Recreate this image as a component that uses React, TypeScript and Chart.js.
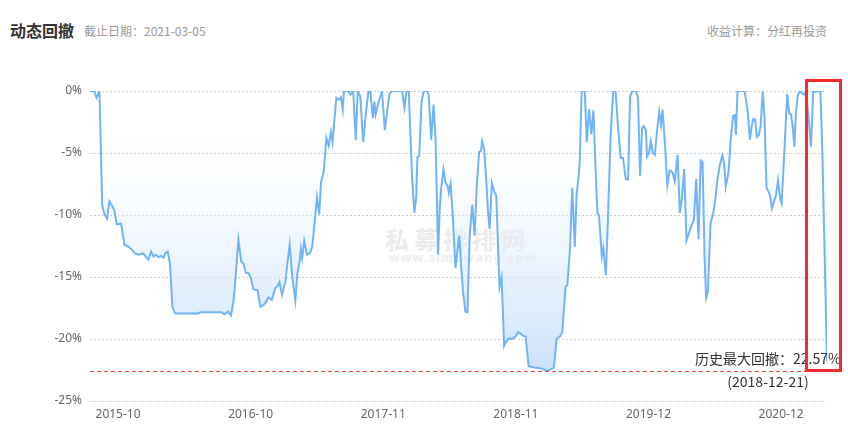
import React, { useEffect, useRef } from 'react';
import { Chart, registerables } from 'chart.js';

Chart.register(...registerables);

// position of each reading along the time axis (in weeks from the first NAV date)
const weekPos = [
  0, 1.6, 2.6, 3.7, 4.8, 5.6, 6.7, 7.6, 8.5, 9.5,
  10.5, 12.2, 13.5, 15.0, 16.4, 17.7, 19.0, 20.9, 22.9, 24.0,
  24.9, 25.8, 26.8, 27.9, 28.8, 29.7, 30.5, 31.4, 32.3, 33.4,
  42.5, 43.2, 51.7, 52.7, 54.1, 55.3, 56.3, 57.1, 58.2, 59.3,
  60.2, 61.1, 62.2, 63.1, 64.1, 65.7, 66.8, 67.8, 68.7, 70.0,
  71.3, 72.6, 73.5, 74.3, 75.3, 76.6, 77.5, 78.3, 79.2, 80.5,
  81.4, 82.2, 82.7, 83.2, 84.0, 85.1, 86.1, 87.1, 88.0, 89.0,
  89.9, 90.6, 91.6, 92.7, 93.6, 94.5, 95.1, 96.6, 97.5, 98.4,
  99.1, 99.6, 101.2, 102.2, 103.2, 104.2, 105.0, 106.0, 107.1, 108.1,
  109.2, 110.0, 110.9, 111.5, 112.0, 113.2, 114.5, 115.6, 116.5, 117.5,
  118.5, 122.4, 123.3, 124.1, 125.0, 126.3, 127.2, 127.9, 128.4, 129.1,
  130.0, 130.9, 132.2, 132.8, 133.8, 134.7, 135.5, 136.5, 137.2, 137.8,
  138.6, 139.4, 140.3, 140.7, 141.4, 142.3, 143.3, 144.2, 144.8, 145.6,
  146.3, 147.2, 148.0, 148.9, 149.9, 150.8, 151.7, 152.6, 153.3, 153.8,
  154.6, 155.5, 156.0, 156.7, 157.6, 158.5, 159.3, 159.8, 160.6, 161.4,
  162.4, 163.2, 164.3, 165.6, 166.9, 167.9, 168.8, 169.8, 170.8, 172.0,
  174.1, 176.7, 179.3, 180.6, 181.9, 183.0, 184.3, 185.2, 186.5, 187.2,
  188.2, 189.1, 190.1, 190.8, 192.0, 192.8, 194.0, 194.8, 195.7, 196.6,
  197.4, 198.3, 199.0, 199.6, 200.7, 201.3, 202.3, 203.1, 204.2, 205.2,
  206.1, 207.0, 208.1, 209.0, 210.1, 211.0, 211.8, 212.7, 214.1, 214.9,
  215.7, 216.5, 217.1, 218.0, 218.4, 219.2, 219.9, 220.7, 221.5, 222.3,
  223.2, 223.9, 224.5, 225.4, 226.4, 227.3, 228.4, 229.3, 230.4, 231.3,
  232.1, 233.0, 233.9, 235.0, 236.0, 236.8, 237.7, 238.6, 239.5, 240.2,
  241.0, 241.6, 242.3, 243.3, 244.4, 245.1, 246.1, 247.0, 248.0, 248.7,
  249.3, 250.4, 251.3, 252.2, 252.9, 253.3, 253.9, 256.7, 257.9, 258.8,
  259.4, 260.1, 260.8, 261.5, 262.3, 263.0, 263.8, 264.5, 265.3, 265.8,
  266.6, 267.4, 268.2, 269.0, 269.8, 270.6, 271.2, 271.8, 272.6, 273.4,
  274.2, 274.9, 275.5, 276.2, 276.8, 277.6, 278.4, 279.2, 280.0, 280.8,
  281.8, 282.7, 283.6, 284.7, 285.7, 286.4, 287.1, 289,
];

// dynamic drawdown, %
const drawdown = [
  0, 0, -0.55, 0, -9.2, -9.9, -10.3, -8.9, -9.2, -9.6,
  -10.75, -10.7, -12.4, -12.55, -12.8, -13.1, -13.2, -13.1, -13.6, -12.95,
  -13.35, -13.2, -13.4, -13.3, -13.45, -13.05, -12.95, -14.0, -17.4, -17.95,
  -17.95, -17.85, -17.85, -18.0, -17.8, -18.1, -16.9, -15.0, -12.0, -13.75,
  -13.95, -14.65, -14.7, -15.1, -16.0, -16.05, -17.4, -17.3, -17.1, -16.65,
  -16.85, -15.9, -15.75, -15.4, -16.45, -15.4, -13.75, -12.4, -14.7, -16.9,
  -14.6, -13.75, -12.75, -13.45, -12.1, -13.2, -13.1, -12.6, -10.8, -8.6,
  -9.95, -7.35, -6.55, -3.8, -4.4, -3.3, -4.1, -0.55, -0.7, -0.5,
  -1.5, 0, 0, -0.3, 0, -3.95, 0, -0.45, -4.1, -1.95,
  0, -0.1, -2.2, -0.85, -1.9, -0.85, 0, -3.15, -1.65, -0.2,
  0, 0, -1.35, 0, 0, -7.0, -9.8, -8.65, -5.3, -5.25,
  -0.85, 0, 0, -0.3, -3.95, -1.1, -3.8, -13.2, -9.2, -7.7,
  -6.3, -7.35, -7.7, -8.2, -7.5, -10.25, -14.3, -12.7, -11.65, -14.3,
  -16.2, -17.8, -17.85, -11.6, -9.15, -11.65, -7.6, -4.9, -4.85, -4.05,
  -4.75, -7.6, -9.6, -11.1, -7.45, -8.1, -8.45, -11.35, -15.8, -15.0,
  -20.55, -20.2, -19.95, -20.0, -19.8, -19.45, -19.55, -19.75, -19.8, -22.2,
  -22.3, -22.35, -22.57, -22.45, -22.3, -19.95, -19.8, -19.45, -15.8, -15.65,
  -12.8, -7.8, -12.55, -8.5, -5.95, 0, 0, -4.1, -1.45, -3.5,
  -1.55, -6.5, -9.9, -10.0, -13.35, -12.7, -14.85, -10.3, -3.3, 0,
  0, -2.75, -5.4, -5.4, -7.1, -7.15, -0.45, 0, 0, -0.6,
  -6.85, -3.0, -2.85, -3.15, -5.3, -5.0, -4.05, -5.0, -5.15, -3.3,
  -1.7, -2.7, -1.5, -4.1, -7.6, -6.4, -6.55, -7.3, -5.15, -9.85,
  -8.65, -6.3, -12.05, -11.35, -10.8, -10.4, -7.1, -11.95, -5.6, -5.7,
  -13.5, -16.7, -16.2, -10.7, -9.85, -8.9, -7.05, -5.95, -5.2, -5.95,
  -7.7, -6.5, -3.8, -2.0, -1.95, -3.55, 0, 0, -1.65, -3.95,
  -2.9, -2.25, -2.3, -3.7, -3.55, -2.75, 0, -2.2, -7.85, -8.0,
  -8.4, -9.45, -8.9, -8.4, -7.2, -8.65, -9.05, -6.8, -3.55, -0.25,
  -1.8, -1.9, -2.75, -4.5, -1.8, -0.3, 0, -0.2, -0.3, 0,
  -2.2, -4.5, 0, -0.05, 0, 0, -4.3, -21.8,
];

const X_MAX = 289;
const xTickPos = [11, 63, 115, 167, 219, 271];
const xTickLabels = ['2015-10', '2016-10', '2017-11', '2018-11', '2019-12', '2020-12'];
const yTickValues = [0, -5, -10, -15, -20, -25];

const MAX_DD = -22.57;
const MAX_DD_DATE = '2018-12-21';

const TITLE = '动态回撤';
const AS_OF = '截止日期：2021-03-05';
const CALC_NOTE = '收益计算：分红再投资';
const WM_CN = '私募排排网';
const WM_URL = 'www.simuwang.com';

const FONT = '"Noto Sans", "Noto Sans CJK SC", sans-serif';
const CJK_FONT = '"Noto Sans CJK SC", "Noto Sans", sans-serif';

export default function App() {
  const ref = useRef<HTMLCanvasElement>(null);

  useEffect(() => {
    document.body.style.margin = '0';
    const canvas = ref.current;
    if (!canvas) return;

    const maxDdPlugin = {
      id: 'maxDd',
      afterDatasetsDraw(chart: any) {
        const { ctx, chartArea, scales } = chart;
        const y = Math.round(scales.y.getPixelForValue(MAX_DD)) + 0.5;
        ctx.save();
        ctx.beginPath();
        ctx.setLineDash([4, 3]);
        ctx.strokeStyle = '#e5403a';
        ctx.lineWidth = 1;
        ctx.moveTo(chartArea.left, y);
        ctx.lineTo(chartArea.right + 2, y);
        ctx.stroke();
        ctx.setLineDash([]);
        ctx.fillStyle = '#333';
        ctx.font = `14px ${CJK_FONT}`;
        ctx.textAlign = 'center';
        ctx.textBaseline = 'middle';
        const cx = chartArea.right - 59;
        ctx.fillText(`历史最大回撤：${Math.abs(MAX_DD).toFixed(2)}%`, cx, y - 13);
        ctx.fillText(`(${MAX_DD_DATE})`, cx, y + 10);
        ctx.restore();
      },
    };

    const chart = new Chart(canvas, {
      type: 'line',
      data: {
        datasets: [
          {
            data: weekPos.map((x, i) => ({ x, y: drawdown[i] })),
            borderColor: '#70b4f5',
            borderWidth: 2,
            pointRadius: 0,
            tension: 0,
            fill: 'end',
            backgroundColor: (context: any) => {
              const { chart: c } = context;
              const area = c.chartArea;
              if (!area) return 'rgba(210,230,252,0.5)';
              const yb = c.scales.y.getPixelForValue(MAX_DD);
              const g = c.ctx.createLinearGradient(0, area.top, 0, yb);
              g.addColorStop(0, 'rgba(255,255,255,0)');
              g.addColorStop(1, 'rgba(200,224,251,0.95)');
              return g;
            },
          },
        ],
      },
      options: {
        responsive: false,
        animation: false,
        layout: { padding: { left: 0, right: 21, top: 91, bottom: 0 } },
        plugins: {
          legend: { display: false },
          tooltip: { enabled: false },
        },
        scales: {
          x: {
            type: 'linear',
            min: 0,
            max: X_MAX,
            grid: { display: false, drawTicks: false },
            border: { display: false },
            afterBuildTicks: (s: any) => {
              s.ticks = xTickPos.map((v) => ({ value: v }));
            },
            afterFit: (s: any) => {
              s.height = 24;
            },
            ticks: {
              autoSkip: false,
              maxRotation: 0,
              padding: 6,
              color: '#666',
              font: { size: 12, family: FONT },
              callback: (v: any) => {
                const i = xTickPos.indexOf(Number(v));
                return i >= 0 ? xTickLabels[i] : '';
              },
            },
          },
          y: {
            type: 'linear',
            min: -25,
            max: 0,
            afterBuildTicks: (s: any) => {
              s.ticks = yTickValues.map((v) => ({ value: v }));
            },
            afterFit: (s: any) => {
              s.width = 90;
            },
            grid: { color: '#cccccc', drawTicks: false, lineWidth: 1 },
            border: { display: false, dash: [2, 2] },
            ticks: {
              padding: 8,
              color: '#666',
              font: { size: 12, family: FONT },
              callback: (v: any) => `${v}%`,
            },
          },
        },
      },
      plugins: [maxDdPlugin],
    });

    return () => chart.destroy();
  }, []);

  return (
    <div style={{ position: 'relative', width: 848, height: 425, background: '#fff', overflow: 'hidden' }}>
      <div
        style={{
          position: 'absolute', left: 10, top: 20, lineHeight: '20px', fontSize: 16,
          fontWeight: 'bold', color: '#333', fontFamily: CJK_FONT, whiteSpace: 'nowrap',
        }}
      >
        {TITLE}
      </div>
      <div
        style={{
          position: 'absolute', left: 84, top: 21, lineHeight: '20px', fontSize: 12,
          color: '#999', fontFamily: CJK_FONT, whiteSpace: 'nowrap',
        }}
      >
        {AS_OF}
      </div>
      <div
        style={{
          position: 'absolute', right: 21, top: 21, lineHeight: '20px', fontSize: 12,
          color: '#999', fontFamily: CJK_FONT, whiteSpace: 'nowrap',
        }}
      >
        {CALC_NOTE}
      </div>
      <div
        style={{
          position: 'absolute', left: 385, top: 225, lineHeight: '28px', fontSize: 24,
          fontWeight: 'bold', letterSpacing: 5, color: '#ececec', fontFamily: CJK_FONT, whiteSpace: 'nowrap',
        }}
      >
        {WM_CN}
      </div>
      <div
        style={{
          position: 'absolute', left: 389, top: 251, lineHeight: '14px', fontSize: 12,
          fontWeight: 'bold', letterSpacing: 1.5, color: '#eeeeee', fontFamily: FONT, whiteSpace: 'nowrap',
        }}
      >
        {WM_URL}
      </div>
      <canvas
        ref={ref}
        width={848}
        height={425}
        style={{ position: 'absolute', left: 0, top: 0, width: 848, height: 425 }}
      />
      <div
        style={{
          position: 'absolute', left: 805, top: 79, width: 37, height: 293,
          boxSizing: 'border-box', border: '3px solid #f52a2a',
        }}
      />
    </div>
  );
}
